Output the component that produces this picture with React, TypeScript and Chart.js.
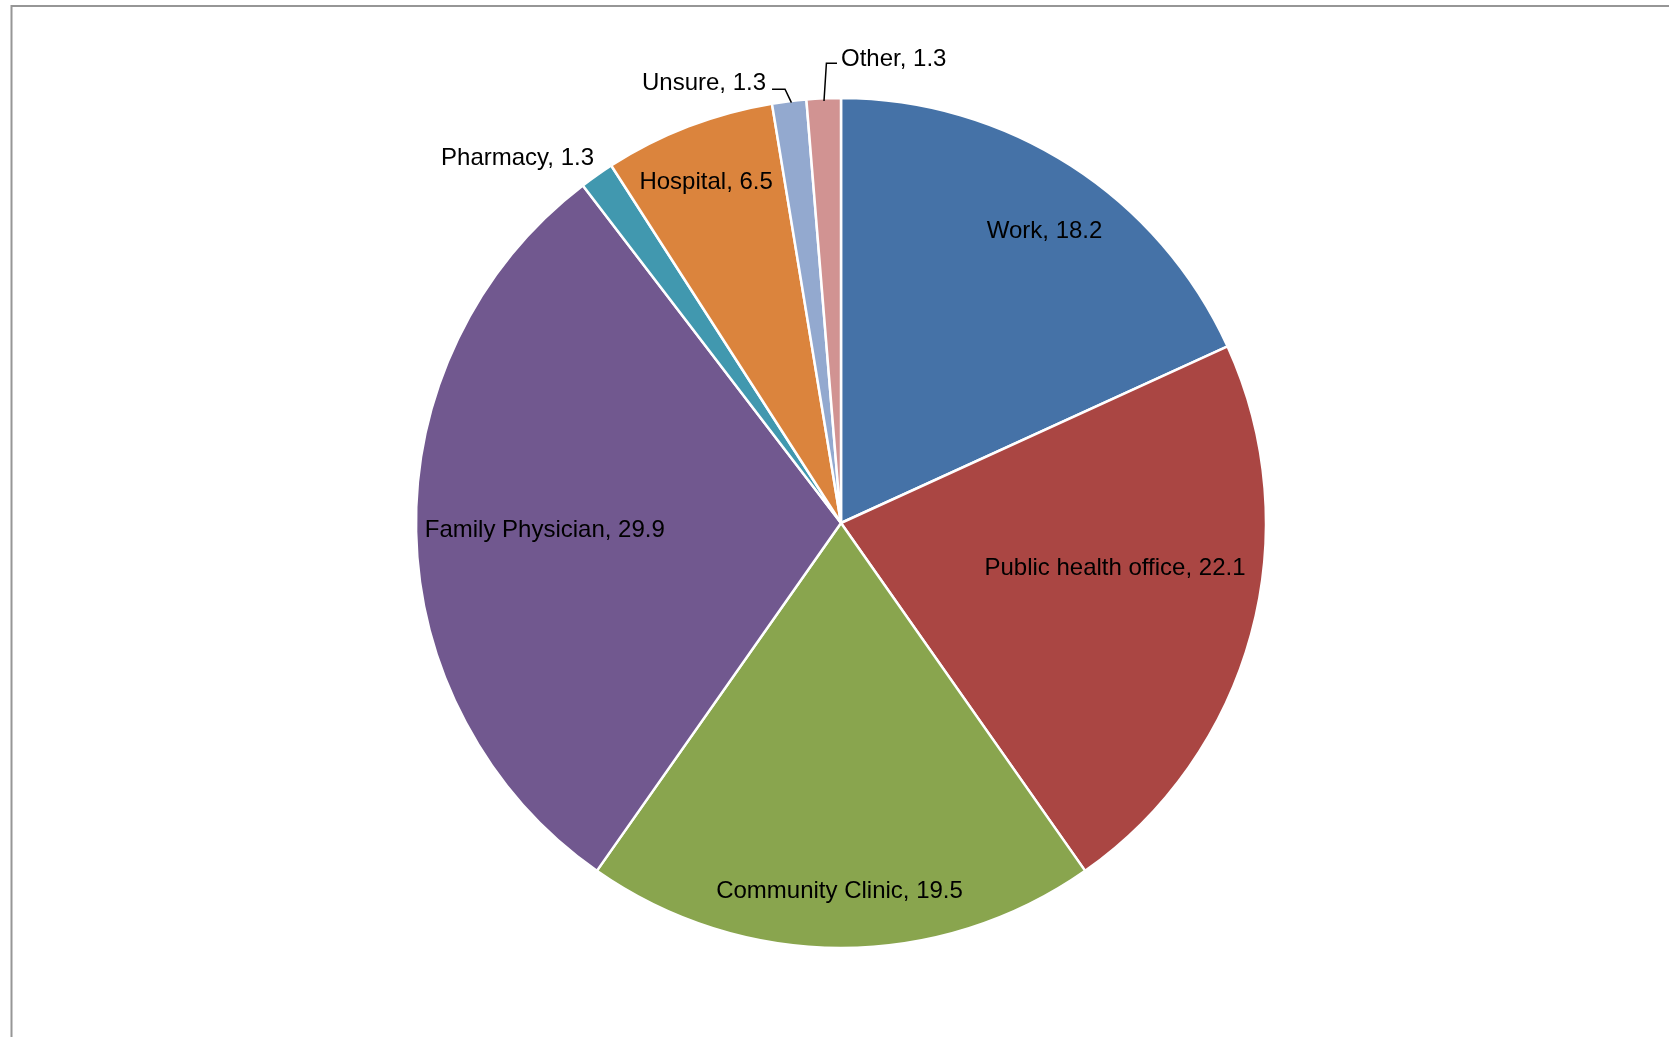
import React, { useEffect, useRef } from "react";
import { Chart, registerables } from "chart.js";

Chart.register(...registerables);

// ---- data ----
const categories = [
  "Work",
  "Public health office",
  "Community Clinic",
  "Family Physician",
  "Pharmacy",
  "Hospital",
  "Unsure",
  "Other",
];
const values = [18.2, 22.1, 19.5, 29.9, 1.3, 6.5, 1.3, 1.3];
const sliceColors = [
  "#4572A7",
  "#AA4643",
  "#89A54E",
  "#71588F",
  "#4198AF",
  "#DB843D",
  "#93A9CF",
  "#D19392",
];

// ---- label layout (styles, not data) ----
// inside labels: fraction of radius along mid-angle, plus pixel nudge (cap-centre)
const insideLayout: Record<number, { f: number; dx: number; dy: number }> = {
  0: { f: 0.84, dx: 11, dy: 6 },
  1: { f: 0.65, dx: 8, dy: -29 },
  2: { f: 0.86, dx: -1.5, dy: 2 },
  3: { f: 0.7, dx: 0.5, dy: -0.7 },
  5: { f: 0.84, dx: -7, dy: -10 },
};
// outside labels: offsets from the arc's outer mid-point
const outsideLayout: Record<
  number,
  { tx: number; ty: number; align: CanvasTextAlign; leader?: number[][] }
> = {
  4: { tx: -3.4, ty: -19.5, align: "right" },
  6: {
    tx: -23.2,
    ty: -21.2,
    align: "right",
    leader: [
      [2.2, 0.5],
      [-4.2, -12.9],
      [-17.2, -12.9],
    ],
  },
  7: {
    tx: 17.3,
    ty: -42.1,
    align: "left",
    leader: [
      [0.3, 1.6],
      [2.7, -36.1],
      [13.3, -36.1],
    ],
  },
};

const FONT_SIZE = 24;
const FONT = `${FONT_SIZE}px "Liberation Sans", Arial, sans-serif`;

const framePlugin = {
  id: "frame",
  beforeDraw(chart: any) {
    const ctx = chart.ctx;
    ctx.save();
    ctx.strokeStyle = "#969696";
    ctx.lineWidth = 2;
    ctx.beginPath();
    ctx.moveTo(11.5, chart.height + 5);
    ctx.lineTo(11.5, 6);
    ctx.lineTo(chart.width + 5, 6);
    ctx.stroke();
    ctx.restore();
  },
};

const labelPlugin = {
  id: "sliceLabels",
  afterDatasetsDraw(chart: any) {
    const ctx = chart.ctx;
    const meta = chart.getDatasetMeta(0);
    ctx.save();
    ctx.font = FONT;
    ctx.fillStyle = "#000";
    ctx.textBaseline = "alphabetic";
    const capHalf = FONT_SIZE * 0.716 * 0.5;
    meta.data.forEach((arc: any, i: number) => {
      const p = arc.getProps(["x", "y", "startAngle", "endAngle", "outerRadius"], true);
      const mid = (p.startAngle + p.endAngle) / 2;
      const R = p.outerRadius - 1;
      const text = `${categories[i]}, ${values[i].toFixed(1)}`;
      if (insideLayout[i]) {
        const L = insideLayout[i];
        const cx = p.x + Math.cos(mid) * R * L.f + L.dx;
        const cy = p.y + Math.sin(mid) * R * L.f + L.dy;
        ctx.textAlign = "center";
        ctx.fillText(text, cx, cy + capHalf);
      } else if (outsideLayout[i]) {
        const L = outsideLayout[i];
        const ex = p.x + Math.cos(mid) * R;
        const ey = p.y + Math.sin(mid) * R;
        if (L.leader) {
          ctx.strokeStyle = "#000";
          ctx.lineWidth = 1.5;
          ctx.beginPath();
          L.leader.forEach((pt, k) => {
            const x = ex + pt[0];
            const y = ey + pt[1];
            if (k === 0) ctx.moveTo(x, y);
            else ctx.lineTo(x, y);
          });
          ctx.stroke();
        }
        ctx.textAlign = L.align;
        ctx.fillText(text, ex + L.tx, ey + L.ty + capHalf);
      }
    });
    ctx.restore();
  },
};

export default function App() {
  const canvasRef = useRef<HTMLCanvasElement | null>(null);

  useEffect(() => {
    const canvas = canvasRef.current;
    if (!canvas) return;
    const chart = new Chart(canvas, {
      type: "pie",
      data: {
        labels: categories,
        datasets: [
          {
            data: values,
            backgroundColor: sliceColors,
            borderColor: "#ffffff",
            borderWidth: 2.5,
            radius: 425,
          } as any,
        ],
      },
      options: {
        responsive: false,
        animation: false,
        layout: { padding: { left: 13, top: 9, right: 0, bottom: 0 } },
        plugins: {
          legend: { display: false },
          tooltip: { enabled: false },
        },
      },
      plugins: [framePlugin, labelPlugin],
    });
    return () => chart.destroy();
  }, []);

  return (
    <div
      style={{
        position: "absolute",
        left: 0,
        top: 0,
        width: 1669,
        height: 1037,
        background: "#ffffff",
      }}
    >
      <canvas ref={canvasRef} width={1669} height={1037} style={{ display: "block" }} />
    </div>
  );
}
